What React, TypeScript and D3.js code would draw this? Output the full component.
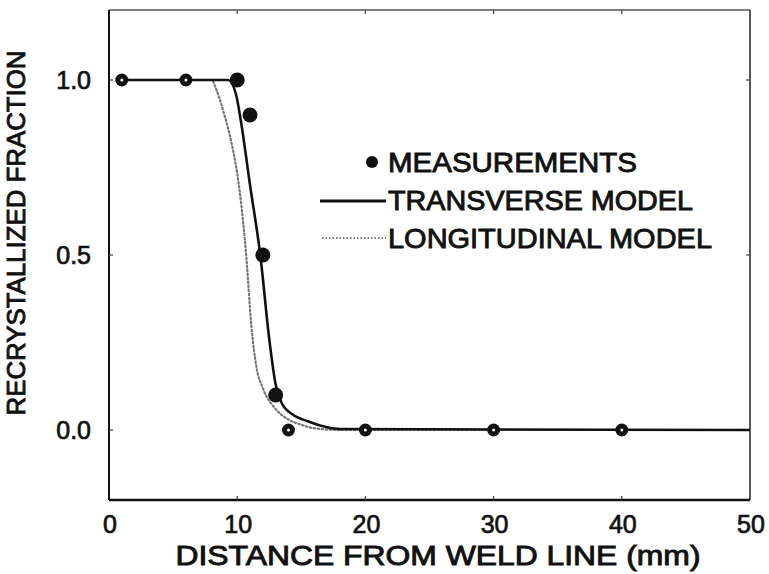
import React from 'react';
import * as d3 from 'd3';

// measured recrystallized fraction vs distance (mm)
const measX = [1, 6, 10, 11, 12, 13, 14, 20, 30, 40];
const measY = [1.0, 1.0, 1.0, 0.9, 0.5, 0.1, 0.0, 0.0, 0.0, 0.0];
const measHollow = [true, true, false, false, false, false, true, true, true, true];

// model curves
const transX = [1, 9.3, 9.9, 10.3, 11.0, 11.8, 12.5, 13.0, 13.5, 14.3, 15.5, 17, 18, 50];
const transY = [1.0, 1.0, 0.96, 0.88, 0.7, 0.5, 0.26, 0.13, 0.075, 0.045, 0.025, 0.008, 0.003, 0.0];
const longX = [1, 8.0, 8.4, 9.0, 9.5, 10.2, 10.7, 11.1, 11.5, 12.0, 13.0, 14.0, 15, 16, 18, 50];
const longY = [1.0, 1.0, 0.97, 0.9, 0.83, 0.68, 0.5, 0.3, 0.18, 0.12, 0.06, 0.03, 0.015, 0.005, 0.0, 0.0];

const xTicks = [0, 10, 20, 30, 40, 50];
const yTicks = [0, 0.5, 1.0];

const legendItems = ['MEASUREMENTS', 'TRANSVERSE MODEL', 'LONGITUDINAL MODEL'];
const legendWidths = [249, 305, 324];

export default function App() {
  const W = 769;
  const H = 574;
  const left = 109, right = 750, top = 10, bottom = 500;

  const x = d3.scaleLinear().domain([0, 50]).range([left, right]);
  const y = d3.scaleLinear().domain([-0.2, 1.2]).range([bottom, top]);

  const line = d3.line<[number, number]>()
    .x(d => x(d[0]))
    .y(d => y(d[1]))
    .curve(d3.curveMonotoneX);

  const transPath = line(transX.map((v, i) => [v, transY[i]] as [number, number])) || '';
  const longPath = line(longX.map((v, i) => [v, longY[i]] as [number, number])) || '';

  const font = '"Liberation Sans", Arial, sans-serif';
  // medium-ish weight: regular glyphs with a thin outline
  const medium = { stroke: '#111', strokeWidth: 0.7 };

  return (
    <svg width={W} height={H} style={{ position: 'absolute', left: 0, top: 0, background: '#fff' }}>
      {/* frame */}
      <line x1={left} y1={top} x2={right} y2={top} stroke="#555" strokeWidth={1.5} />
      <line x1={right} y1={top} x2={right} y2={bottom} stroke="#222" strokeWidth={1.5} />
      <line x1={left} y1={top} x2={left} y2={bottom} stroke="#111" strokeWidth={2} />
      <line x1={left} y1={bottom} x2={right} y2={bottom} stroke="#111" strokeWidth={2.5} />

      {/* ticks */}
      {xTicks.slice(1, -1).map(t => (
        <g key={'xt' + t}>
          <line x1={x(t)} x2={x(t)} y1={top} y2={top + 4} stroke="#444" strokeWidth={1.2} />
          <line x1={x(t)} x2={x(t)} y1={bottom} y2={bottom - 4} stroke="#444" strokeWidth={1.2} />
        </g>
      ))}
      {yTicks.map(t => (
        <g key={'yt' + t}>
          <line x1={left} x2={left + 4} y1={y(t)} y2={y(t)} stroke="#444" strokeWidth={1.2} />
          <line x1={right} x2={right - 4} y1={y(t)} y2={y(t)} stroke="#444" strokeWidth={1.2} />
        </g>
      ))}

      {/* tick labels */}
      {xTicks.map(t => (
        <text key={'xl' + t} x={x(t) + 1} y={533} textAnchor="middle" fontFamily={font}
          fontSize={25} fill="#111" {...medium}>{t}</text>
      ))}
      {yTicks.map(t => (
        <text key={'yl' + t} x={91} y={y(t) + 9} textAnchor="end" fontFamily={font}
          fontSize={25} fill="#111" {...medium}>{d3.format('.1f')(t)}</text>
      ))}

      {/* axis titles */}
      <text x={438} y={565} textAnchor="middle" fontFamily={font} fontSize={27}
        fill="#111" {...medium} strokeWidth={0.9} textLength={525} lengthAdjust="spacingAndGlyphs">
        DISTANCE FROM WELD LINE (mm)
      </text>
      <text transform="translate(25,233) rotate(-90)" textAnchor="middle" fontFamily={font}
        fontSize={26} fill="#111" {...medium} strokeWidth={0.9} textLength={365} lengthAdjust="spacingAndGlyphs">
        RECRYSTALLIZED FRACTION
      </text>

      {/* curves */}
      <path d={longPath} fill="none" stroke="#777" strokeWidth={2.2} strokeDasharray="1.5,2.5" strokeLinecap="round" />
      <path d={transPath} fill="none" stroke="#111" strokeWidth={2.6} />

      {/* measurements */}
      {measX.map((v, i) => (
        <g key={'m' + i}>
          <circle cx={x(v)} cy={y(measY[i])} r={measHollow[i] ? 6.5 : 7.5} fill="#111" />
          {measHollow[i] && <circle cx={x(v)} cy={y(measY[i])} r={1.5} fill="#fff" />}
        </g>
      ))}

      {/* legend */}
      <circle cx={372} cy={162} r={6} fill="#111" />
      <line x1={320} x2={386} y1={201} y2={201} stroke="#111" strokeWidth={3} />
      <line x1={322} x2={386} y1={238} y2={238} stroke="#777" strokeWidth={2} strokeDasharray="1.5,2" />
      {legendItems.map((s, i) => (
        <text key={s} x={388} y={172 + i * 38} fontFamily={font} fontSize={28}
          fill="#111" {...medium} strokeWidth={0.9} textLength={legendWidths[i]}
          lengthAdjust="spacingAndGlyphs">{s}</text>
      ))}
    </svg>
  );
}
